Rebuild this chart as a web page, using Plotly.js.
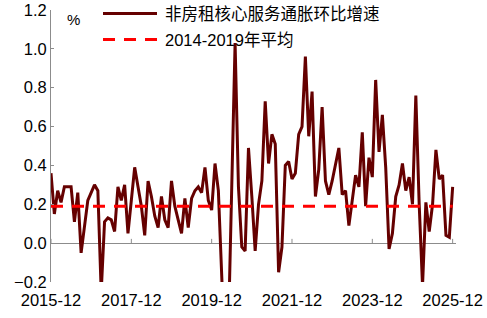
<!DOCTYPE html>
<html>
<head>
<meta charset="utf-8">
<script src="https://cdn.plot.ly/plotly-3.0.1.min.js"></script>
<style>html,body{margin:0;padding:0;background:#fff}#chart{width:487px;height:318px}</style>
</head>
<body>
<div id="chart"></div>
<script>
// ---- data ----
const startYear = 2015, startMonth = 12, monthCount = 121;
const months = [];
for (let i = 0; i < monthCount; i++) {
  const m0 = startMonth - 1 + i;
  const y = startYear + Math.floor(m0 / 12);
  const m = (m0 % 12) + 1;
  months.push(y + '-' + String(m).padStart(2, '0'));
}
const seriesNames = ['非房租核心服务通胀环比增速', '2014-2019年平均'];
const coreServicesExRent = [
  0.36, 0.15, 0.27, 0.21, 0.29, 0.29, 0.29, 0.11, 0.26, -0.05, 0.09, 0.22,
  0.26, 0.30, 0.27, -0.25, 0.11, 0.13, 0.12, 0.06, 0.29, 0.22, 0.30, 0.05,
  0.22, 0.39, 0.29, 0.19, 0.04, 0.32, 0.24, 0.14, 0.08, 0.24, 0.12, 0.08,
  0.32, 0.19, 0.12, 0.05, 0.23, 0.08, 0.23, 0.27, 0.29, 0.26, 0.39, 0.22,
  0.17, 0.41, 0.27, -0.30, -0.60, -0.45, 0.25, 1.03, 0.29, -0.02, -0.04, 0.49,
  0.24, -0.04, 0.20, 0.32, 0.73, 0.41, 0.56, 0.51, -0.15, -0.02, 0.40, 0.42,
  0.33, 0.36, 0.56, 0.60, 0.96, 0.55, 0.78, 0.24, 0.38, 0.70, 0.32, 0.25,
  0.32, 0.41, 0.49, 0.25, 0.27, 0.09, 0.21, 0.35, 0.29, 0.57, 0.19, 0.44,
  0.34, 0.84, 0.47, 0.66, 0.39, -0.03, 0.05, 0.24, 0.30, 0.41, 0.27, 0.34,
  0.20, 0.76, 0.20, -0.22, 0.21, 0.06, 0.20, 0.48, 0.33, 0.35, 0.04, 0.03,
  0.29
];
const avg2014to2019 = 0.19;
const avgSeries = months.map(() => avg2014to2019);
const xTickLabels = ['2015-12', '2017-12', '2019-12', '2021-12', '2023-12', '2025-12'];
const yTickValues = [-0.2, 0, 0.2, 0.4, 0.6, 0.8, 1.0, 1.2];
const unitLabel = '%';

// ---- styles ----
const W = 487, H = 318;
const M = {l: 51, r: 31, t: 10, b: 36};
const PW = W - M.l - M.r, PH = H - M.t - M.b;
const px = x => (x - M.l) / PW;
const py = y => (H - M.b - y) / PH;
const lineColor = '#650000';
const avgColor = '#ff0000';
const axisGray = '#8c8c8c';
const fontFam = 'Liberation Sans, Arial, Noto Sans CJK SC, sans-serif';

const traces = [
  {x: months, y: coreServicesExRent, type: 'scatter', mode: 'lines', name: seriesNames[0],
   line: {color: lineColor, width: 3}, showlegend: false, hoverinfo: 'skip'},
  {x: months, y: avgSeries, type: 'scatter', mode: 'lines', name: seriesNames[1],
   line: {color: avgColor, width: 3, dash: '12px,9px'}, showlegend: false, hoverinfo: 'skip'}
];

const shapes = [];
// tick marks on zero line
xTickLabels.forEach(lbl => {
  const i = months.indexOf(lbl);
  shapes.push({type: 'line', xref: 'x', yref: 'y', x0: i, x1: i, y0: 0, y1: 0.022,
    line: {color: axisGray, width: 1}});
});
// custom legend samples
shapes.push({type: 'line', xref: 'paper', yref: 'paper', x0: px(103), x1: px(157), y0: py(13.5), y1: py(13.5),
  line: {color: lineColor, width: 3}});
shapes.push({type: 'line', xref: 'paper', yref: 'paper', x0: px(103), x1: px(157), y0: py(39.5), y1: py(39.5),
  line: {color: avgColor, width: 3, dash: '12px,9px'}});

const annotations = [
  {xref: 'paper', yref: 'paper', x: px(163), y: py(14), xanchor: 'left', yanchor: 'middle',
   text: seriesNames[0], showarrow: false, font: {family: fontFam, size: 16.5, color: '#000'}},
  {xref: 'paper', yref: 'paper', x: px(163), y: py(40), xanchor: 'left', yanchor: 'middle',
   text: seriesNames[1], showarrow: false, font: {family: fontFam, size: 16.5, color: '#000'}},
  {xref: 'paper', yref: 'paper', x: px(73), y: py(19), xanchor: 'center', yanchor: 'middle',
   text: unitLabel, showarrow: false, font: {family: fontFam, size: 15, color: '#000'}}
];

const layout = {
  width: W, height: H, margin: M,
  paper_bgcolor: '#fff', plot_bgcolor: '#fff',
  font: {family: fontFam, size: 16.5, color: '#000'},
  showlegend: false,
  xaxis: {type: 'category', range: [0, 121], tickvals: xTickLabels, ticktext: xTickLabels,
    showgrid: false, zeroline: false, showline: false, ticks: '', tickangle: 0,
    ticklabelstandoff: 6,
    tickfont: {family: fontFam, size: 16.5, color: '#000'}},
  yaxis: {range: [-0.2, 1.2], tickvals: yTickValues, tickformat: '.1f',
    showgrid: false, zeroline: true, zerolinecolor: axisGray, zerolinewidth: 1,
    showline: true, linecolor: axisGray, linewidth: 1,
    ticks: 'inside', ticklen: 3, tickcolor: axisGray,
    tickfont: {family: fontFam, size: 16.5, color: '#000'}},
  shapes: shapes,
  annotations: annotations
};

Plotly.newPlot('chart', traces, layout, {staticPlot: true, displayModeBar: false});
</script>
</body>
</html>
